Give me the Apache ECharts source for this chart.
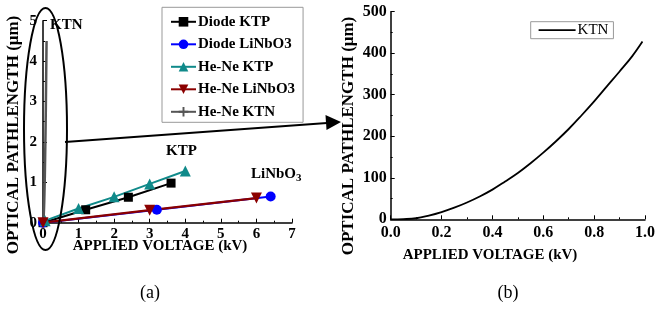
<!DOCTYPE html>
<html>
<head>
<meta charset="utf-8">
<script src="https://cdn.jsdelivr.net/npm/echarts@6/dist/echarts.min.js"></script>
<style>
html,body{margin:0;padding:0;background:#fff;}
#c{width:658px;height:326px;}
</style>
</head>
<body>
<div id="c"></div>
<script>
// ---- Data ----
// Panel (a)
const diodeKTP_V = [0, 1.2, 2.4, 3.6];
const diodeKTP_L = [0, 0.32, 0.63, 0.98];
const diodeLN_V = [0, 3.2, 6.4];
const diodeLN_L = [0, 0.32, 0.65];
const heneKTP_V = [0.06, 1, 2, 3, 4];
const heneKTP_L = [0.05, 0.35, 0.64, 0.96, 1.28];
const heneLN_V = [0, 3, 6];
const heneLN_L = [0, 0.31, 0.61];
const heneKTN_V = [0, 0.02, 0.04, 0.06, 0.08, 0.1];
const heneKTN_L = [0, 0.17, 0.7, 1.6, 2.85, 4.5];
const seriesNamesA = ['Diode KTP', 'Diode LiNbO3', 'He-Ne KTP', 'He-Ne LiNbO3', 'He-Ne KTN'];
const xTicksA = [0, 1, 2, 3, 4, 5, 6, 7];
const yTicksA = [0, 1, 2, 3, 4, 5];
// Panel (b)
const ktnV = [0, 0.05, 0.1, 0.15, 0.2, 0.25, 0.3, 0.35, 0.4, 0.45, 0.5, 0.55, 0.6, 0.65, 0.7, 0.75, 0.8, 0.85, 0.9, 0.95, 0.99];
const ktnL = [0, 0.5, 2.5, 9, 17.5, 28, 40.5, 55, 71.5, 91, 111.5, 135, 160.5, 188, 217.5, 250, 284, 320, 356, 393, 428];
const xTicksB = [0, 0.2, 0.4, 0.6, 0.8, 1.0];
const yTicksB = [0, 100, 200, 300, 400, 500];

const zip = (a, b) => a.map((v, i) => [v, b[i]]);
const FONT = 'Liberation Serif';

const chart = echarts.init(document.getElementById('c'), null, {renderer: 'canvas'});

function axisCommon() {
  return {
    axisLine: {show: true, lineStyle: {color: '#000', width: 1.5}},
    axisTick: {show: true, inside: true, length: 4, lineStyle: {color: '#000', width: 1}},
    minorTick: {show: true, splitNumber: 2, length: 2, lineStyle: {color: '#000', width: 1}},
    splitLine: {show: false},
    minorSplitLine: {show: false}
  };
}

const option = {
  animation: false,
  backgroundColor: '#fff',
  grid: [
    {left: 43, top: 20.7, width: 249, height: 202, containLabel: false},
    {left: 390.7, top: 11.7, width: 258.6, height: 207.6, containLabel: false}
  ],
  xAxis: [
    Object.assign(axisCommon(), {
      gridIndex: 0, type: 'value', min: xTicksA[0], max: xTicksA[xTicksA.length - 1], interval: 1,
      axisLabel: {color: '#000', fontFamily: FONT, fontWeight: 'bold', fontSize: 15, margin: 4}
    }),
    Object.assign(axisCommon(), {
      gridIndex: 1, type: 'value', min: xTicksB[0], max: xTicksB[xTicksB.length - 1], interval: 0.2,
      axisLabel: {color: '#000', fontFamily: FONT, fontWeight: 'bold', fontSize: 16, margin: 6,
        formatter: v => v.toFixed(1)}
    })
  ],
  yAxis: [
    Object.assign(axisCommon(), {
      gridIndex: 0, type: 'value', min: yTicksA[0], max: yTicksA[yTicksA.length - 1], interval: 1,
      axisLabel: {color: '#000', fontFamily: FONT, fontWeight: 'bold', fontSize: 15, margin: 6}
    }),
    Object.assign(axisCommon(), {
      gridIndex: 1, type: 'value', min: yTicksB[0], max: yTicksB[yTicksB.length - 1], interval: 100,
      axisLabel: {color: '#000', fontFamily: FONT, fontWeight: 'bold', fontSize: 16, margin: 4}
    })
  ],
  legend: [
    {
      data: seriesNamesA,
      orient: 'vertical', left: 162, top: 7.3,
      padding: [7, 8, 3, 8], itemGap: 7.5, itemWidth: 25, itemHeight: 12,
      borderColor: '#999', borderWidth: 1, borderRadius: 0, backgroundColor: '#fff',
      textStyle: {color: '#000', fontFamily: FONT, fontWeight: 'bold', fontSize: 15, padding: [0, 0, 0, -3]}
    },
    {
      data: ['KTN'],
      orient: 'vertical', left: 530.7, top: 21.7,
      padding: [1, 5, 1, 7], itemWidth: 37, itemHeight: 12,
      borderColor: '#999', borderWidth: 1, borderRadius: 0,
      itemStyle: {opacity: 0},
      lineStyle: {color: '#000', width: 1.8, opacity: 1},
      textStyle: {color: '#000', fontFamily: FONT, fontSize: 15, padding: [0, 0, 0, -3]}
    }
  ],
  series: [
    {
      name: seriesNamesA[0], type: 'line', xAxisIndex: 0, yAxisIndex: 0,
      data: zip(diodeKTP_V, diodeKTP_L), color: '#000',
      symbol: 'rect', symbolSize: 9, lineStyle: {width: 2, color: '#000'}, itemStyle: {color: '#000'}
    },
    {
      name: seriesNamesA[1], type: 'line', xAxisIndex: 0, yAxisIndex: 0,
      data: zip(diodeLN_V, diodeLN_L), color: '#0000ff',
      symbol: 'circle', symbolSize: 10, lineStyle: {width: 2, color: '#0000ff'}, itemStyle: {color: '#0000ff'}
    },
    {
      name: seriesNamesA[2], type: 'line', xAxisIndex: 0, yAxisIndex: 0,
      data: zip(heneKTP_V, heneKTP_L), color: '#108a8a',
      symbol: 'triangle', symbolSize: 11, lineStyle: {width: 2, color: '#108a8a'}, itemStyle: {color: '#108a8a'}
    },
    {
      name: seriesNamesA[3], type: 'line', xAxisIndex: 0, yAxisIndex: 0,
      data: zip(heneLN_V, heneLN_L), color: '#8b0000',
      symbol: 'triangle', symbolRotate: 180, symbolSize: 11, lineStyle: {width: 2.2, color: '#8b0000'}, itemStyle: {color: '#8b0000'}
    },
    {
      name: seriesNamesA[4], type: 'line', xAxisIndex: 0, yAxisIndex: 0,
      data: zip(heneKTN_V, heneKTN_L), color: '#555',
      symbol: 'path://M4,0h2v10h-2zM0,4h10v2h-10z', symbolSize: 9, showSymbol: false, smooth: true,
      lineStyle: {width: 2.5, color: '#555'}, itemStyle: {color: '#555'}
    },
    {
      name: 'KTN', type: 'line', xAxisIndex: 1, yAxisIndex: 1,
      data: zip(ktnV, ktnL), color: '#000', symbol: 'none', smooth: 0.4,
      lineStyle: {width: 1.8, color: '#000'}
    }
  ],
  graphic: [
    // ellipse around KTN trace
    {type: 'ellipse', shape: {cx: 45.5, cy: 129, rx: 21.5, ry: 121},
      style: {fill: 'none', stroke: '#000', lineWidth: 2}, z: 100},
    // arrow to panel (b)
    {type: 'line', shape: {x1: 65, y1: 142, x2: 327, y2: 123},
      style: {stroke: '#000', lineWidth: 2}, z: 100},
    {type: 'polygon', shape: {points: [[341, 122], [326.5, 130.1], [325.5, 115.1]]},
      style: {fill: '#000'}, z: 100},
    // annotations
    {type: 'text', left: 50, top: 18, z: 100,
      style: {text: 'KTN', fill: '#000', font: 'bold 15px "Liberation Serif"'}},
    {type: 'text', left: 166, top: 144, z: 100,
      style: {text: 'KTP', fill: '#000', font: 'bold 15px "Liberation Serif"'}},
    {type: 'text', left: 251, top: 167, z: 100,
      style: {text: '{a|LiNbO}{s|3}', fill: '#000',
        rich: {a: {fontFamily: FONT, fontWeight: 'bold', fontSize: 15, fill: '#000'},
               s: {fontFamily: FONT, fontWeight: 'bold', fontSize: 11, fill: '#000', padding: [8, 0, 0, 0]}}}},
    // axis titles
    {type: 'text', x: 14, y: 135, rotation: Math.PI / 2, z: 100,
      style: {text: 'OPTICAL PATHLENGTH (\u03bcm)', fill: '#000', align: 'center', verticalAlign: 'middle',
        font: 'bold 17px "Liberation Serif"'}},
    {type: 'text', x: 160, y: 246, z: 100,
      style: {text: 'APPLIED VOLTAGE (kV)', fill: '#000', align: 'center', verticalAlign: 'middle',
        font: 'bold 15px "Liberation Serif"'}},
    {type: 'text', x: 349, y: 136, rotation: Math.PI / 2, z: 100,
      style: {text: 'OPTICAL PATHLENGTH (\u03bcm)', fill: '#000', align: 'center', verticalAlign: 'middle',
        font: 'bold 17px "Liberation Serif"'}},
    {type: 'text', x: 490, y: 255, z: 100,
      style: {text: 'APPLIED VOLTAGE (kV)', fill: '#000', align: 'center', verticalAlign: 'middle',
        font: 'bold 15px "Liberation Serif"'}},
    // panel labels
    {type: 'text', x: 150, y: 293, z: 100,
      style: {text: '(a)', fill: '#000', align: 'center', verticalAlign: 'middle', font: '18px "Liberation Serif"'}},
    {type: 'text', x: 508, y: 293, z: 100,
      style: {text: '(b)', fill: '#000', align: 'center', verticalAlign: 'middle', font: '18px "Liberation Serif"'}}
  ]
};
chart.setOption(option);
</script>
</body>
</html>
